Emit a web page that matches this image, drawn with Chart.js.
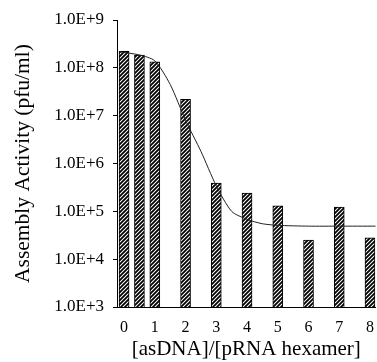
<!DOCTYPE html>
<html>
<head>
<meta charset="utf-8">
<script src="https://cdn.jsdelivr.net/npm/chart.js@4"></script>
<style>
  html, body { margin: 0; padding: 0; background: #fff; }
</style>
</head>
<body>
<canvas id="chartActivity" width="377" height="362"></canvas>
<script>
// ratio [asDNA]/[pRNA hexamer] and assembly activity (pfu/ml)
const ratios = [0, 0.5, 1, 2, 3, 4, 5, 6, 7, 8];
const activity = [2.2e8, 1.85e8, 1.33e8, 2.2e7, 3.9e5, 2.4e5, 1.3e5, 2.5e4, 1.22e5, 2.8e4];

// fitted curve
const fitX = [-0.15, 0.5, 1, 1.5, 2, 2.5, 3, 3.5, 4, 4.5, 5, 6, 7, 8.2];
const fitY = [2.16e8, 1.86e8, 1.4e8, 4.5e7, 8.0e6, 1.8e6, 3.4e5, 1.0e5, 6.8e4, 5.5e4, 5.1e4, 4.9e4, 4.9e4, 4.9e4];

const xTicks = [0, 1, 2, 3, 4, 5, 6, 7, 8];
const yTicks = [1e3, 1e4, 1e5, 1e6, 1e7, 1e8, 1e9];
const yTickLabels = ['1.0E+3', '1.0E+4', '1.0E+5', '1.0E+6', '1.0E+7', '1.0E+8', '1.0E+9'];

// hatch pattern for the bars
function buatHatch() {
  const c = document.createElement('canvas');
  c.width = 4; c.height = 4;
  const g = c.getContext('2d');
  g.fillStyle = '#fff';
  g.fillRect(0, 0, 4, 4);
  g.strokeStyle = '#000';
  g.lineWidth = 1.8;
  g.beginPath();
  g.moveTo(-1, 5); g.lineTo(5, -1);
  g.moveTo(-1, 1); g.lineTo(1, -1);
  g.moveTo(3, 5); g.lineTo(5, 3);
  g.stroke();
  return g.createPattern(c, 'repeat');
}

const serif = 'Liberation Serif';
const ctx = document.getElementById('chartActivity').getContext('2d');

new Chart(ctx, {
  type: 'bar',
  data: {
    datasets: [{
      type: 'bar',
      data: ratios.map((r, i) => ({ x: r, y: activity[i] })),
      backgroundColor: buatHatch(),
      borderColor: '#000',
      borderWidth: 1,
      barThickness: 10,
      order: 2
    }, {
      type: 'line',
      data: fitX.map((r, i) => ({ x: r, y: fitY[i] })),
      borderColor: '#222',
      borderWidth: 1,
      pointRadius: 0,
      fill: false,
      tension: 0.25,
      order: 1
    }]
  },
  options: {
    responsive: false,
    animation: false,
    layout: { padding: { top: 20, right: 0, left: 0, bottom: 0 } },
    plugins: {
      legend: { display: false },
      tooltip: { enabled: false }
    },
    scales: {
      x: {
        type: 'linear',
        min: -0.23,
        max: 8.18,
        offset: false,
        afterBuildTicks: s => { s.ticks = xTicks.map(v => ({ value: v })); },
        afterFit: s => { s.height = 55; },
        grid: { display: false },
        border: { color: '#000', width: 1 },
        ticks: {
          color: '#000',
          padding: 3,
          maxRotation: 0,
          autoSkip: false,
          font: { family: serif, size: 16 },
          callback: v => String(v)
        },
        title: {
          display: true,
          text: '[asDNA]/[pRNA hexamer]',
          color: '#000',
          font: { family: serif, size: 21 },
          padding: { top: 0, bottom: 0 }
        }
      },
      y: {
        type: 'logarithmic',
        min: 1e3,
        max: 1e9,
        afterBuildTicks: s => { s.ticks = yTicks.map(v => ({ value: v })); },
        afterFit: s => { s.width = 117; },
        grid: { drawOnChartArea: false, tickLength: 4, color: '#000' },
        border: { color: '#000', width: 1 },
        ticks: {
          color: '#000',
          padding: 9,
          autoSkip: false,
          font: { family: serif, size: 17 },
          callback: (v, i) => yTickLabels[i]
        },
        title: {
          display: true,
          text: 'Assembly Activity (pfu/ml)',
          color: '#000',
          font: { family: serif, size: 21.5 },
          padding: { top: 10, bottom: 0 }
        }
      }
    }
  }
});
</script>
</body>
</html>
